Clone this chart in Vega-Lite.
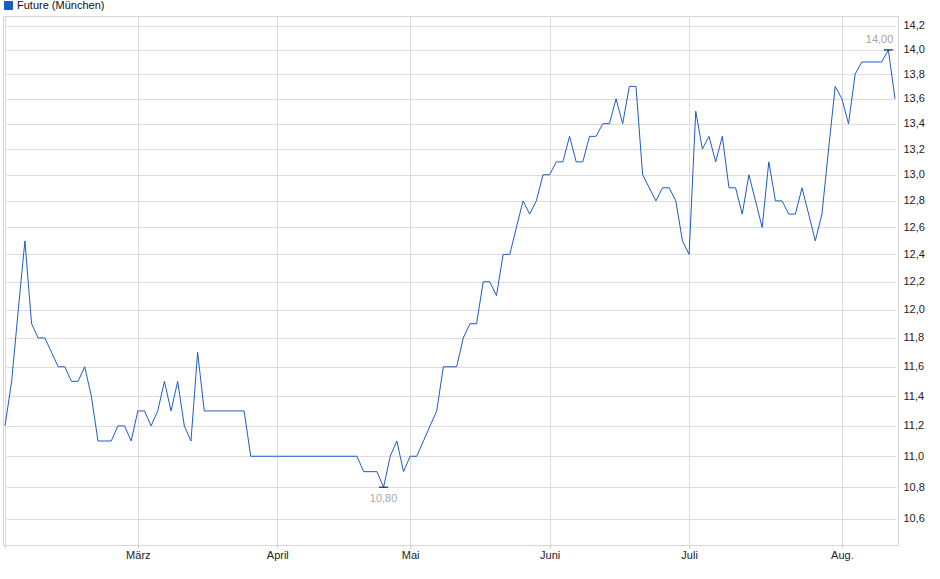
{
  "$schema": "https://vega.github.io/schema/vega-lite/v6.json",
  "autosize": {"type": "none"},
  "width": 895,
  "height": 529,
  "padding": {"left": 3, "top": 16, "right": 42, "bottom": 34},
  "background": "white",
  "config": {
    "view": {"stroke": "#d6d6d6", "strokeWidth": 1},
    "font": "Liberation Sans",
    "axis": {"gridColor": "#dcdcdc", "gridWidth": 1, "labelFont": "Liberation Sans", "labelFontSize": 11, "labelColor": "#222222", "domain": false, "tickColor": "#cccccc"}
  },
  "data": {"values": [
    {"date": "2025-02-03", "value": 11.2},
    {"date": "2025-02-04", "value": 11.5},
    {"date": "2025-02-05", "value": 12.0},
    {"date": "2025-02-06", "value": 12.5},
    {"date": "2025-02-07", "value": 11.9},
    {"date": "2025-02-10", "value": 11.8},
    {"date": "2025-02-11", "value": 11.8},
    {"date": "2025-02-12", "value": 11.7},
    {"date": "2025-02-13", "value": 11.6},
    {"date": "2025-02-14", "value": 11.6},
    {"date": "2025-02-17", "value": 11.5},
    {"date": "2025-02-18", "value": 11.5},
    {"date": "2025-02-19", "value": 11.6},
    {"date": "2025-02-20", "value": 11.4},
    {"date": "2025-02-21", "value": 11.1},
    {"date": "2025-02-24", "value": 11.1},
    {"date": "2025-02-25", "value": 11.1},
    {"date": "2025-02-26", "value": 11.2},
    {"date": "2025-02-27", "value": 11.2},
    {"date": "2025-02-28", "value": 11.1},
    {"date": "2025-03-03", "value": 11.3},
    {"date": "2025-03-04", "value": 11.3},
    {"date": "2025-03-05", "value": 11.2},
    {"date": "2025-03-06", "value": 11.3},
    {"date": "2025-03-07", "value": 11.5},
    {"date": "2025-03-10", "value": 11.3},
    {"date": "2025-03-11", "value": 11.5},
    {"date": "2025-03-12", "value": 11.2},
    {"date": "2025-03-13", "value": 11.1},
    {"date": "2025-03-14", "value": 11.7},
    {"date": "2025-03-17", "value": 11.3},
    {"date": "2025-03-18", "value": 11.3},
    {"date": "2025-03-19", "value": 11.3},
    {"date": "2025-03-20", "value": 11.3},
    {"date": "2025-03-21", "value": 11.3},
    {"date": "2025-03-24", "value": 11.3},
    {"date": "2025-03-25", "value": 11.3},
    {"date": "2025-03-26", "value": 11.0},
    {"date": "2025-03-27", "value": 11.0},
    {"date": "2025-03-28", "value": 11.0},
    {"date": "2025-03-31", "value": 11.0},
    {"date": "2025-04-01", "value": 11.0},
    {"date": "2025-04-02", "value": 11.0},
    {"date": "2025-04-03", "value": 11.0},
    {"date": "2025-04-04", "value": 11.0},
    {"date": "2025-04-07", "value": 11.0},
    {"date": "2025-04-08", "value": 11.0},
    {"date": "2025-04-09", "value": 11.0},
    {"date": "2025-04-10", "value": 11.0},
    {"date": "2025-04-11", "value": 11.0},
    {"date": "2025-04-14", "value": 11.0},
    {"date": "2025-04-15", "value": 11.0},
    {"date": "2025-04-16", "value": 11.0},
    {"date": "2025-04-17", "value": 11.0},
    {"date": "2025-04-22", "value": 10.9},
    {"date": "2025-04-23", "value": 10.9},
    {"date": "2025-04-24", "value": 10.9},
    {"date": "2025-04-25", "value": 10.8},
    {"date": "2025-04-28", "value": 11.0},
    {"date": "2025-04-29", "value": 11.1},
    {"date": "2025-04-30", "value": 10.9},
    {"date": "2025-05-02", "value": 11.0},
    {"date": "2025-05-05", "value": 11.0},
    {"date": "2025-05-06", "value": 11.1},
    {"date": "2025-05-07", "value": 11.2},
    {"date": "2025-05-08", "value": 11.3},
    {"date": "2025-05-09", "value": 11.6},
    {"date": "2025-05-12", "value": 11.6},
    {"date": "2025-05-13", "value": 11.6},
    {"date": "2025-05-14", "value": 11.8},
    {"date": "2025-05-15", "value": 11.9},
    {"date": "2025-05-16", "value": 11.9},
    {"date": "2025-05-19", "value": 12.2},
    {"date": "2025-05-20", "value": 12.2},
    {"date": "2025-05-21", "value": 12.1},
    {"date": "2025-05-22", "value": 12.4},
    {"date": "2025-05-23", "value": 12.4},
    {"date": "2025-05-26", "value": 12.6},
    {"date": "2025-05-27", "value": 12.8},
    {"date": "2025-05-28", "value": 12.7},
    {"date": "2025-05-29", "value": 12.8},
    {"date": "2025-05-30", "value": 13.0},
    {"date": "2025-06-02", "value": 13.0},
    {"date": "2025-06-03", "value": 13.1},
    {"date": "2025-06-04", "value": 13.1},
    {"date": "2025-06-05", "value": 13.3},
    {"date": "2025-06-06", "value": 13.1},
    {"date": "2025-06-09", "value": 13.1},
    {"date": "2025-06-10", "value": 13.3},
    {"date": "2025-06-11", "value": 13.3},
    {"date": "2025-06-12", "value": 13.4},
    {"date": "2025-06-13", "value": 13.4},
    {"date": "2025-06-16", "value": 13.6},
    {"date": "2025-06-17", "value": 13.4},
    {"date": "2025-06-18", "value": 13.7},
    {"date": "2025-06-19", "value": 13.7},
    {"date": "2025-06-20", "value": 13.0},
    {"date": "2025-06-23", "value": 12.9},
    {"date": "2025-06-24", "value": 12.8},
    {"date": "2025-06-25", "value": 12.9},
    {"date": "2025-06-26", "value": 12.9},
    {"date": "2025-06-27", "value": 12.8},
    {"date": "2025-06-30", "value": 12.5},
    {"date": "2025-07-01", "value": 12.4},
    {"date": "2025-07-02", "value": 13.5},
    {"date": "2025-07-03", "value": 13.2},
    {"date": "2025-07-04", "value": 13.3},
    {"date": "2025-07-07", "value": 13.1},
    {"date": "2025-07-08", "value": 13.3},
    {"date": "2025-07-09", "value": 12.9},
    {"date": "2025-07-10", "value": 12.9},
    {"date": "2025-07-11", "value": 12.7},
    {"date": "2025-07-14", "value": 13.0},
    {"date": "2025-07-15", "value": 12.8},
    {"date": "2025-07-16", "value": 12.6},
    {"date": "2025-07-17", "value": 13.1},
    {"date": "2025-07-18", "value": 12.8},
    {"date": "2025-07-21", "value": 12.8},
    {"date": "2025-07-22", "value": 12.7},
    {"date": "2025-07-23", "value": 12.7},
    {"date": "2025-07-24", "value": 12.9},
    {"date": "2025-07-25", "value": 12.7},
    {"date": "2025-07-28", "value": 12.5},
    {"date": "2025-07-29", "value": 12.7},
    {"date": "2025-07-30", "value": 13.2},
    {"date": "2025-07-31", "value": 13.7},
    {"date": "2025-08-01", "value": 13.6},
    {"date": "2025-08-04", "value": 13.4},
    {"date": "2025-08-05", "value": 13.8},
    {"date": "2025-08-06", "value": 13.9},
    {"date": "2025-08-07", "value": 13.9},
    {"date": "2025-08-08", "value": 13.9},
    {"date": "2025-08-11", "value": 13.9},
    {"date": "2025-08-12", "value": 14.0},
    {"date": "2025-08-13", "value": 13.6}
  ]},
  "encoding": {
    "x": {
      "field": "date", "type": "ordinal",
      "sort": "ascending",
      "scale": {"type": "point", "range": [2, 892], "padding": 0},
      "axis": {
        "title": null,
        "values": ["2025-02-03", "2025-03-03", "2025-04-01", "2025-05-02", "2025-06-02", "2025-07-01", "2025-08-01"],
        "labelExpr": "datum.value == '2025-03-03' ? 'März' : datum.value == '2025-04-01' ? 'April' : datum.value == '2025-05-02' ? 'Mai' : datum.value == '2025-06-02' ? 'Juni' : datum.value == '2025-07-01' ? 'Juli' : datum.value == '2025-08-01' ? 'Aug.' : ''",
        "labelAngle": 0,
        "grid": true,
        "ticks": true,
        "tickSize": 3,
        "labelPadding": 1
      }
    },
    "y": {
      "field": "value", "type": "quantitative",
      "scale": {"type": "log", "domain": [10.4357, 14.2845], "nice": false, "zero": false},
      "axis": {
        "title": null,
        "orient": "right",
        "values": [10.6, 10.8, 11.0, 11.2, 11.4, 11.6, 11.8, 12.0, 12.2, 12.4, 12.6, 12.8, 13.0, 13.2, 13.4, 13.6, 13.8, 14.0, 14.2],
        "format": ".1f",
        "labelExpr": "replace(datum.label, '.', ',')",
        "grid": true,
        "ticks": false,
        "labelPadding": 5
      }
    }
  },
  "layer": [
    {
      "mark": {"type": "line", "strokeWidth": 1, "interpolate": "linear"},
      "encoding": {
        "color": {
          "datum": "Future (München)",
          "type": "nominal",
          "scale": {"range": ["#1f5bc4"]},
          "legend": {
            "title": null,
            "orient": "none",
            "legendX": 0,
            "legendY": -16,
            "padding": 0,
            "symbolType": "square",
            "symbolSize": 64,
            "symbolStrokeWidth": 1,
            "labelFontSize": 11,
            "labelFont": "Liberation Sans",
            "labelColor": "#111111",
            "labelOffset": 3,
            "encode": {"symbols": {"update": {"fill": {"value": "#1f5bc4"}, "stroke": {"value": "#0d2f6e"}, "strokeWidth": {"value": 1}}}}
          }
        }
      }
    },
    {
      "transform": [{"filter": "datum.value == 14 || datum.value == 10.8"}],
      "mark": {"type": "tick", "orient": "horizontal", "size": 9, "thickness": 1, "color": "#000000", "opacity": 1}
    },
    {
      "transform": [{"filter": "datum.value == 14"}],
      "mark": {"type": "text", "align": "right", "baseline": "bottom", "dx": 5, "dy": -5, "fontSize": 11, "font": "Liberation Sans", "color": "#aaa39a", "text": {"expr": "replace(format(datum.value, '.2f'), '.', ',')"}}
    },
    {
      "transform": [{"filter": "datum.value == 10.8"}],
      "mark": {"type": "text", "align": "center", "baseline": "top", "dy": 6, "fontSize": 11, "font": "Liberation Sans", "color": "#a3a8b0", "text": {"expr": "replace(format(datum.value, '.2f'), '.', ',')"}}
    }
  ]
}
